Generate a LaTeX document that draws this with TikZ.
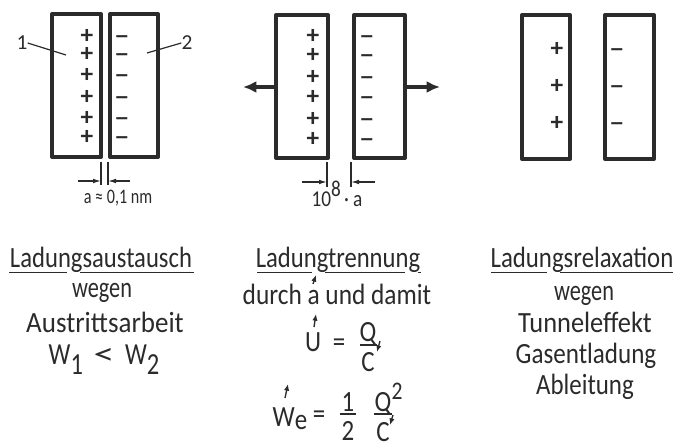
\documentclass[tikz,border=0pt]{standalone}
\usepackage{fontspec}
\setmainfont{Carlito}
\usetikzlibrary{arrows.meta}
\definecolor{ink}{HTML}{2B2B2B}
\tikzset{
  plate/.style={draw=ink,line width=3pt,line join=round,fill=white},
  chgp/.style={inner sep=0pt,text=ink,font=\fontsize{19}{19}\selectfont\bfseries},
  chgm/.style={inner sep=0pt,text=ink,font=\fontsize{18}{18}\selectfont\bfseries,yshift=-2.6pt,xscale=1.3},
  lab/.style={inner sep=0pt,anchor=base,text=ink,font=\fontsize{22}{24}\selectfont},
  num/.style={inner sep=0pt,text=ink,font=\fontsize{16}{16}\selectfont},
  small/.style={inner sep=0pt,text=ink,font=\fontsize{15.5}{16}\selectfont,xscale=0.78},
  thin/.style={draw=ink,line width=0.9pt},
  rule/.style={draw=ink,line width=1.1pt},
  dim/.style={draw=ink,line width=0.9pt,-{Latex[length=6pt,width=3.5pt]}},
  push/.style={draw=ink,line width=2.8pt,-{Latex[length=10pt,width=9pt]}},
  tick/.style={draw=ink,line width=1pt,-{Latex[length=5pt,width=4pt]}},
}
\begin{document}
\begin{tikzpicture}[x=0.75pt,y=-0.75pt]
\useasboundingbox (0,0) rectangle (676,445);
% plates
\draw[plate] (52,14) rectangle (101,157);
\draw[plate] (110,14) rectangle (158,157);
\draw[plate] (276,15) rectangle (328,158);
\draw[plate] (354,15) rectangle (405,158);
\draw[plate] (522,15) rectangle (570,159);
\draw[plate] (605,15) rectangle (654,159);
% charges
\foreach \y [count=\i] in {36,54,75,97,118,137}{
  \node[chgp] (pa\i) at (87,\y) {+};
  \node[chgm] (ma\i) at (122,\y) {–};}
\foreach \y [count=\i] in {36,55,77,97,119,139}{
  \node[chgp] (pb\i) at (313,\y) {+};
  \node[chgm] (mb\i) at (367,\y) {–};}
\foreach \y [count=\i] in {49,86,123}{
  \node[chgp] (pc\i) at (557,\y) {+};
  \node[chgm] (mc\i) at (617,\y) {–};}
% leaders
\node[num] (one) at (22,43) {1};
\node[num] (two) at (187,43) {2};
\coordinate (oneend) at (66,55);
\coordinate (twoend) at (147,53);
\draw[thin] (one.east) -- (oneend);
\draw[thin] (two.west) -- (twoend);
% dimension a
\coordinate (a1t) at (101,162); \coordinate (a1b) at (101,185);
\coordinate (a2t) at (108,162); \coordinate (a2b) at (108,185);
\draw[thin] (a1t) -- (a1b);
\draw[thin] (a2t) -- (a2b);
\coordinate (a1s) at (78,181); \coordinate (a1e) at (101,181);
\coordinate (a2s) at (130,181); \coordinate (a2e) at (108,181);
\draw[dim] (a1s) -- (a1e);
\draw[dim] (a2s) -- (a2e);
\node[small] (adim) at (118,198) {a ≈ 0,1 nm};
% dimension 10^8 a
\coordinate (b1t) at (327,162); \coordinate (b1b) at (327,187);
\coordinate (b2t) at (351,162); \coordinate (b2b) at (351,187);
\draw[thin] (b1t) -- (b1b);
\draw[thin] (b2t) -- (b2b);
\coordinate (b1s) at (302,182); \coordinate (b1e) at (327,182);
\coordinate (b2s) at (375,182); \coordinate (b2e) at (351,182);
\draw[dim] (b1s) -- (b1e);
\draw[dim] (b2s) -- (b2e);
\node[lab,font=\fontsize{17}{17}\selectfont,xscale=0.85] (bdim) at (337,207) {10\raisebox{8pt}{8}\,· a};
% force arrows
\coordinate (fl) at (274,87); \coordinate (fle) at (243,87);
\coordinate (fr) at (407,87); \coordinate (fre) at (440,87);
\draw[push] (fl) -- (fle);
\draw[push] (fr) -- (fre);
% left column
\node[lab,xscale=0.84] (t1) at (101,268) {Ladungsaustausch};
\coordinate (u1a) at (9,272.5); \coordinate (u1b) at (67,272.5);
\coordinate (u1c) at (80,272.5); \coordinate (u1d) at (194,272.5);
\draw[rule] (u1a) -- (u1b);
\draw[rule] (u1c) -- (u1d);
\node[lab,xscale=0.76] (t2) at (102,298) {wegen};
\node[lab,xscale=0.92] (t3) at (105,333) {Austrittsarbeit};
\node[lab,font=\fontsize{23}{24}\selectfont,xscale=0.8] (t4) at (104,365) {W\raisebox{-7.5pt}{1}\hspace{10pt}\scalebox{1.7}[1]{<}\hspace{10pt}W\raisebox{-7.5pt}{2}};
% middle column
\node[lab,xscale=0.84] (m1) at (338,268) {Ladungtrennung};
\coordinate (u2a) at (257,272.5); \coordinate (u2b) at (312,272.5);
\coordinate (u2c) at (325,272.5); \coordinate (u2d) at (405,272.5);
\coordinate (u2e) at (418,272.5); \coordinate (u2f) at (421,272.5);
\draw[rule] (u2a) -- (u2b);
\draw[rule] (u2c) -- (u2d);
\draw[rule] (u2e) -- (u2f);
\node[lab,xscale=0.865] (m2) at (337,305) {durch a und damit};
\node[lab,xscale=0.85] (mU) at (313,352) {U};
\node[lab,xscale=0.85] (me1) at (339,352) {=};
\node[lab,xscale=0.85] (mQ1) at (368,342) {Q};
\node[lab,xscale=0.85] (mC1) at (368,372) {C};
\coordinate (f1a) at (360,345); \coordinate (f1b) at (377,345);
\draw[rule] (f1a) -- (f1b);
\node[lab,xscale=0.85] (mW) at (290,427) {W\raisebox{-2pt}{e}};
\node[lab,xscale=0.85] (me2) at (319,424) {=};
\node[lab,xscale=0.85] (mo) at (348,412) {1};
\node[lab,xscale=0.85] (mt) at (348,441) {2};
\coordinate (f2a) at (340,414); \coordinate (f2b) at (356,414);
\draw[rule] (f2a) -- (f2b);
\node[lab,xscale=0.85] (mQ2) at (383,412) {Q};
\node[lab,xscale=0.85,font=\fontsize{19}{20}\selectfont] (msq) at (397,400) {2};
\node[lab,xscale=0.85] (mC2) at (383,442) {C};
\coordinate (f3a) at (374,414); \coordinate (f3b) at (392,414);
\draw[rule] (f3a) -- (f3b);
% small arrows
\coordinate (s1a) at (313,284); \coordinate (s1b) at (316,275);
\coordinate (s2a) at (314,327); \coordinate (s2b) at (316,314);
\coordinate (s3a) at (285,398); \coordinate (s3b) at (288,384);
\coordinate (s4a) at (380,341); \coordinate (s4b) at (377,352);
\coordinate (s5a) at (393,415); \coordinate (s5b) at (390,425);
\draw[tick] (s1a) -- (s1b);
\draw[tick] (s2a) -- (s2b);
\draw[tick] (s3a) -- (s3b);
\draw[tick] (s4a) -- (s4b);
\draw[tick] (s5a) -- (s5b);
% right column
\node[lab,xscale=0.846] (r1) at (582,268) {Ladungsrelaxation};
\coordinate (u3a) at (491,272.5); \coordinate (u3b) at (547,272.5);
\coordinate (u3c) at (560,272.5); \coordinate (u3d) at (673,272.5);
\draw[rule] (u3a) -- (u3b);
\draw[rule] (u3c) -- (u3d);
\node[lab,xscale=0.76] (r2) at (584,301) {wegen};
\node[lab,xscale=0.90] (r3) at (585,333) {Tunneleffekt};
\node[lab,xscale=0.855] (r4) at (586,364) {Gasentladung};
\node[lab,xscale=0.85] (r5) at (585,395) {Ableitung};
\end{tikzpicture}
\end{document}
